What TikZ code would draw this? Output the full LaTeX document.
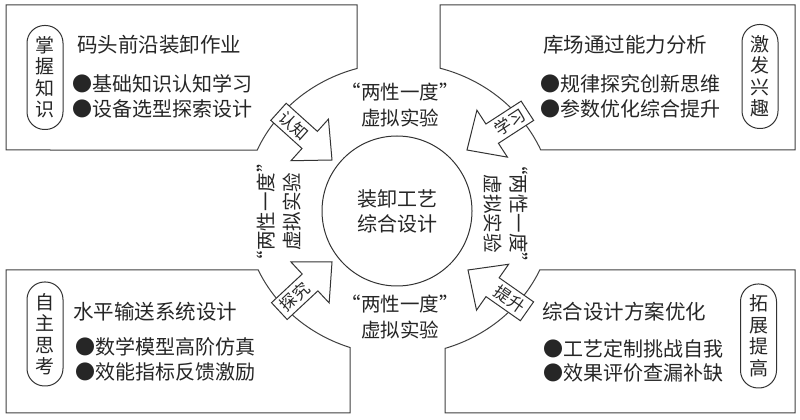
\documentclass[tikz,border=0pt]{standalone}
\usepackage{fontspec}
\setmainfont{Noto Sans CJK SC}
\begin{document}
\begin{tikzpicture}[x=1pt,y=1pt,
  boxline/.style={line width=1pt, draw=black!75, line join=miter},
  title/.style={anchor=west, inner sep=0pt, font=\fontsize{20.5}{24}\selectfont, text=black!85},
  bullet/.style={anchor=west, inner sep=0pt, font=\fontsize{20}{24}\selectfont, text=black!85},
  capsule/.style={draw=black!80, line width=1pt, rounded corners=17.5pt, minimum width=36pt, minimum height=104pt, inner sep=0pt, align=center, font=\fontsize{19}{21.5}\selectfont, text=black!85},
  midtext/.style={align=center, inner sep=0pt, font=\fontsize{19.5}{26}\selectfont, text=black!85},
  arrowtext/.style={inner sep=0pt, font=\fontsize{16.5}{18}\selectfont, text=black!85},
  blockarrow/.style={draw=black!80, line width=1pt, fill=white, line join=miter}
]
\fill[white] (0,0) rectangle (800,420);
\useasboundingbox (0,0) rectangle (800,420);

% four corner boxes with arcs of the big ellipse
\draw[boxline] (6,415) -- (357,415) -- (357,351.5)
  arc[start angle=105.72, end angle=156.16, x radius=155, y radius=146] -- (6,270) -- cycle;
\draw[boxline] (795,415) -- (440,415) -- (440,351.8)
  arc[start angle=74.66, end angle=23.84, x radius=155, y radius=146] -- (795,270) -- cycle;
\draw[boxline] (6,150) -- (258.2,150)
  arc[start angle=204.70, end angle=251.57, x radius=155, y radius=146] -- (350,7) -- (6,7) -- cycle;
\draw[boxline] (539.8,150)
  arc[start angle=335.30, end angle=287.27, x radius=155, y radius=146] -- (445,7) -- (795,7) -- (795,150) -- cycle;

% centre circle
\node[circle, draw=black!80, line width=1pt, minimum size=150pt, midtext, font=\fontsize{20}{25}\selectfont] (core) at (397,209) {装卸工艺\\综合设计};

% mid texts
\node[midtext] (ttop) at (400,315) {“两性一度”\\虚拟实验};
\node[midtext] (tbot) at (400,103) {“两性一度”\\虚拟实验};
\node[midtext, rotate=90] (tleft) at (279,208) {“两性一度”\\虚拟实验};
\node[midtext, rotate=-90] (tright) at (506,206) {“两性一度”\\虚拟实验};

% block arrows
\begin{scope}[shift={(332,260)}, rotate=-42]
  \draw[blockarrow] (0,0) -- (-30,28) -- (-30,11.5) -- (-72,11.5) -- (-72,-11.5) -- (-30,-11.5) -- (-30,-28) -- cycle;
  \node[arrowtext, rotate=-42] (a1) at (-51,0) {认知};
\end{scope}
\begin{scope}[shift={(467,270)}, rotate=213]
  \draw[blockarrow] (0,0) -- (-30,28) -- (-30,11.5) -- (-72,11.5) -- (-72,-11.5) -- (-30,-11.5) -- (-30,-28) -- cycle;
  \node[arrowtext, rotate=33] (a2) at (-51,0) {学习};
\end{scope}
\begin{scope}[shift={(332,158)}, rotate=43]
  \draw[blockarrow] (0,0) -- (-30,28) -- (-30,11.5) -- (-72,11.5) -- (-72,-11.5) -- (-30,-11.5) -- (-30,-28) -- cycle;
  \node[arrowtext, rotate=43] (a3) at (-51,0) {探究};
\end{scope}
\begin{scope}[shift={(468,150)}, rotate=145]
  \draw[blockarrow] (0,0) -- (-30,28) -- (-30,11.5) -- (-72,11.5) -- (-72,-11.5) -- (-30,-11.5) -- (-30,-28) -- cycle;
  \node[arrowtext, rotate=-35] (a4) at (-51,0) {提升};
\end{scope}

% top-left box
\node[capsule] (capTL) at (45,342.5) {掌\\握\\知\\识};
\node[title] (tTL) at (77,375) {码头前沿装卸作业};
\node[bullet] (bTL1) at (72,336) {●基础知识认知学习};
\node[bullet] (bTL2) at (72,311) {●设备选型探索设计};

% top-right box
\node[capsule] (capTR) at (760,343.5) {激\\发\\兴\\趣};
\node[title] (tTR) at (543,375) {库场通过能力分析};
\node[bullet] (bTR1) at (540,336) {●规律探究创新思维};
\node[bullet] (bTR2) at (540,311) {●参数优化综合提升};

% bottom-left box
\node[capsule] (capBL) at (45,86) {自\\主\\思\\考};
\node[title] (tBL) at (73,108) {水平输送系统设计};
\node[bullet] (bBL1) at (75,73) {●数学模型高阶仿真};
\node[bullet] (bBL2) at (75,48) {●效能指标反馈激励};

% bottom-right box
\node[capsule] (capBR) at (758.5,84) {拓\\展\\提\\高};
\node[title] (tBR) at (542,108) {综合设计方案优化};
\node[bullet] (bBR1) at (543,71) {●工艺定制挑战自我};
\node[bullet] (bBR2) at (543,47) {●效果评价查漏补缺};
\end{tikzpicture}
\end{document}
